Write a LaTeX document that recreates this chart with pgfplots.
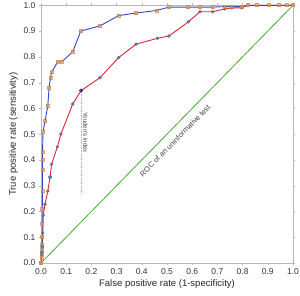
\documentclass[border=0pt]{standalone}
\usepackage{pgfplots}
\pgfplotsset{compat=1.18}
\usepackage{fontspec}
\setmainfont{Liberation Sans}
\definecolor{bl}{HTML}{3344CC}
\definecolor{rd}{HTML}{DD2233}
\definecolor{gr}{HTML}{44AA33}
\definecolor{frame}{HTML}{B8B8B8}
\definecolor{orsq}{HTML}{F0A060}
\definecolor{gcirc}{HTML}{8A8AA8}
\definecolor{teal}{HTML}{3A8AB0}
\begin{document}
\begin{tikzpicture}
\begin{axis}[
  scale only axis, width=252pt, height=257.7pt,
  xmin=0, xmax=1, ymin=0, ymax=1,
  axis line style={frame},
  tick style={frame},
  tick align=outside, major tick length=2pt,
  xtick={0,0.1,...,1.0}, ytick={0,0.1,...,1.0},
  xticklabel style={/pgf/number format/.cd, fixed, fixed zerofill, precision=1},
  yticklabel style={/pgf/number format/.cd, fixed, fixed zerofill, precision=1},
  /pgf/number format/assume math mode=true,
  ticklabel style={font=\fontsize{8.5}{10}\selectfont, text=black!80},
  label style={font=\fontsize{9.5}{11}\selectfont, text=black!85},
  xlabel={False positive rate (1-specificity)},
  ylabel={True positive rate (sensitivity)},
  xlabel style={yshift=2pt},
  ylabel style={yshift=-1pt},
  clip=false,
]
\coordinate (bbl) at (rel axis cs:-0.1627,-0.1242);
\coordinate (btr) at (rel axis cs:1.0278,1.0206);
% diagonal
\addplot[gr, line width=0.8pt] coordinates {(0,0) (1,1)};
\node[rotate=45.6, font=\fontsize{7.5}{8}\selectfont, text=black!75] at (axis cs:0.532,0.475) {ROC of an uninformative test};
% Youden
\addplot[gray!60, densely dotted, line width=0.6pt] coordinates {(0.159,0.669) (0.159,0.27)};
\node[rotate=-90, font=\fontsize{6}{7}\selectfont, text=black!75] at (axis cs:0.177,0.506) {Youden's index};
% red curve
\addplot[rd, line width=0.9pt, mark=*, mark size=1.2pt, mark options={fill=gcirc, draw=gcirc!80!black, fill opacity=0.8}] coordinates {
(0,0) (0.003,0.03) (0.005,0.063) (0.007,0.116) (0.009,0.184) (0.016,0.228) (0.027,0.279) (0.036,0.333) (0.042,0.383) (0.065,0.451) (0.079,0.50) (0.126,0.617) (0.159,0.669) (0.234,0.719) (0.308,0.797) (0.377,0.849) (0.462,0.872) (0.508,0.881) (0.585,0.936) (0.631,0.975) (0.681,0.975) (0.730,0.986) (0.757,0.99) (0.796,0.99) (0.82,1.0) (1,1)
};
% blue curve
\addplot[bl, line width=0.9pt, mark=square*, mark size=1.5pt, mark options={fill=orsq, draw=orsq!80!black, fill opacity=0.7, draw opacity=0.7}] coordinates {
(0,0) (0.002,0.02) (0.003,0.04) (0.004,0.05) (0.004,0.07) (0.005,0.10) (0.005,0.15) (0.005,0.21) (0.006,0.28) (0.006,0.36) (0.006,0.40) (0.006,0.43) (0.008,0.51) (0.016,0.55) (0.027,0.61) (0.032,0.68) (0.038,0.72) (0.042,0.74) (0.066,0.78) (0.082,0.78) (0.126,0.82) (0.158,0.90) (0.234,0.92) (0.308,0.96) (0.377,0.97) (0.459,0.98) (0.508,0.993) (0.585,0.993) (0.631,0.993) (0.681,0.993) (0.730,0.995) (0.757,0.995) (0.796,0.995) (0.82,1.0) (0.855,1.0) (0.905,1.0) (0.945,1.0) (0.975,1.0) (1,1)
};
% special markers
\addplot[only marks, mark=*, mark size=1.8pt, mark options={fill=bl!70!purple, draw=bl!60!black}] coordinates {(0.159,0.669)};
\addplot[only marks, mark=asterisk, mark size=2pt, mark options={draw=teal, line width=0.8pt}] coordinates {(0.036,0.333) (0.005,0.063) (0.003,0.04)};
\end{axis}
\pgfresetboundingbox
\path[use as bounding box] (bbl) rectangle (btr);
\end{tikzpicture}
\end{document}
